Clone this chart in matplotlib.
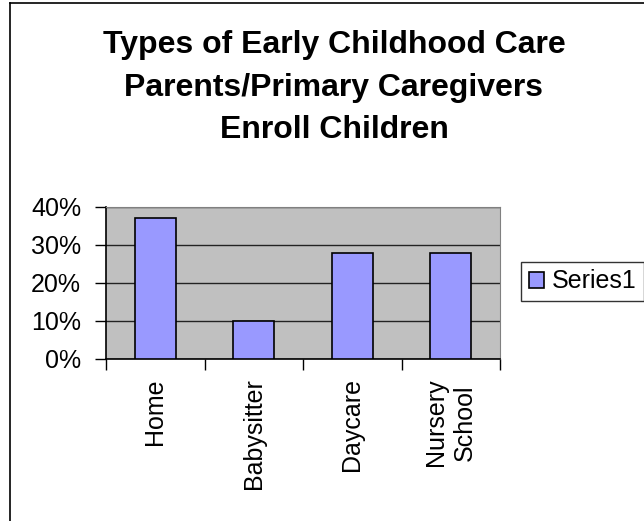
import matplotlib
matplotlib.use("Agg")
import matplotlib.pyplot as plt
from matplotlib.lines import Line2D
from matplotlib.patches import Patch

plt.rcParams["font.family"] = ["Liberation Sans", "DejaVu Sans"]

# chart data
categories = ["Home", "Babysitter", "Daycare", "Nursery\nSchool"]
values = [37, 10, 28, 28]
y_ticks = [0, 10, 20, 30, 40]
y_tick_labels = ["0%", "10%", "20%", "30%", "40%"]
series_name = "Series1"
title = "Types of Early Childhood Care\nParents/Primary Caregivers\nEnroll Children"

W, H = 644, 521
fig = plt.figure(figsize=(W / 100, H / 100), dpi=100)

# outer chart border (left and top visible)
fig.add_artist(Line2D([10 / W, 10 / W], [0, 1 - 3 / H], color="black", lw=1.2))
fig.add_artist(Line2D([10 / W, 1], [1 - 3 / H, 1 - 3 / H], color="black", lw=1.2))

ax = fig.add_axes([106 / W, 1 - 359 / H, 394 / W, 152 / H])
ax.set_facecolor("#C0C0C0")

x = list(range(len(categories)))
ax.bar(x, values, width=0.42, color="#9999FF", edgecolor="black", linewidth=1.2, zorder=3)

ax.set_xlim(-0.5, len(categories) - 0.5)
ax.set_ylim(0, 40)
ax.set_yticks(y_ticks)
ax.set_yticklabels(y_tick_labels, fontsize=18)
ax.yaxis.grid(True, color="#222222", lw=1, zorder=1)

# x ticks between categories, labels at centers
ax.set_xticks([i - 0.5 for i in range(len(categories) + 1)])
ax.set_xticklabels([])
ax.set_xticks(x, minor=True)
ax.set_xticklabels(categories, minor=True, rotation=90, fontsize=18,
                   va="top", ha="center", multialignment="center",
                   linespacing=1.25)
ax.tick_params(axis="x", which="minor", length=0, pad=14)
ax.tick_params(axis="x", which="major", length=8, width=1, direction="out")
ax.tick_params(axis="y", length=8, width=1, direction="out", pad=10)

for s in ["top", "right"]:
    ax.spines[s].set_color("#808080")
for s in ["left", "bottom"]:
    ax.spines[s].set_color("black")
    ax.spines[s].set_linewidth(1.2)

fig.text(334 / W, 1 - 30 / H, title, ha="center", va="top", fontsize=23,
         fontweight="bold", linespacing=1.55)

handle = Patch(facecolor="#9999FF", edgecolor="black", linewidth=1.2)
leg = fig.legend([handle], [series_name], loc="upper left",
                 bbox_to_anchor=(521 / W, 1 - 262 / H), fontsize=18,
                 frameon=True, fancybox=False, edgecolor="black",
                 handlelength=0.6, handleheight=0.6, handletextpad=0.32,
                 borderpad=0.3, borderaxespad=0)
leg.get_frame().set_linewidth(1)

fig.savefig("out.png", dpi=100)
